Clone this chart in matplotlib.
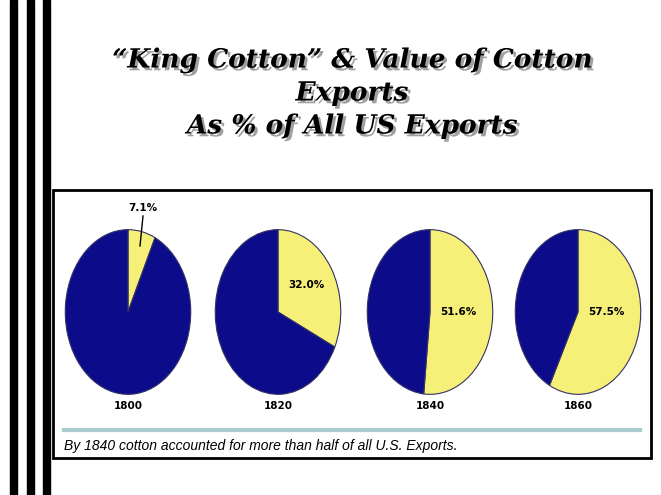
import matplotlib
matplotlib.use("Agg")
import matplotlib.pyplot as plt
from matplotlib.patches import Rectangle
import matplotlib.patheffects as pe

years = ["1800", "1820", "1840", "1860"]
cotton_pct = [7.1, 32.0, 51.6, 57.5]
pie_centers_x = [128, 278, 430, 578]

W, H = 661, 495
fig = plt.figure(figsize=(W/100, H/100), dpi=100)
bg = fig.add_axes([0, 0, 1, 1])
bg.set_xlim(0, W); bg.set_ylim(H, 0); bg.axis("off")

def ftext(x, y, s, **kw):
    fig.text(x/W, 1-y/H, s, **kw)

for x0 in [10, 27, 43]:
    bg.add_patch(Rectangle((x0, 0), 7, H, color="black"))

bg.text(352, 93, "“King Cotton” & Value of Cotton\nExports\nAs % of All US Exports",
        ha="center", va="center", fontsize=19, family="DejaVu Serif", style="italic",
        fontweight="bold", linespacing=1.4,
        path_effects=[pe.withSimplePatchShadow(offset=(2, -2), shadow_rgbFace="#888888", alpha=0.8)])

bg.add_patch(Rectangle((53, 190), 598, 268, fill=False, ec="black", lw=2))
bg.plot([64, 640], [430, 430], color="#a8ccd0", lw=3)
bg.text(64, 446, "By 1840 cotton accounted for more than half of all U.S. Exports.",
        ha="left", va="center", fontsize=10, style="italic", family="Liberation Sans")

navy = "#0c0c8a"
yellow = "#f6ef78"
hw, hh, cy = 64, 84, 312
for yr, p, cx in zip(years, cotton_pct, pie_centers_x):
    ax = fig.add_axes([(cx-hw)/W, 1-(cy+hh)/H, 2*hw/W, 2*hh/H])
    ax.pie([p, 100-p], colors=[yellow, navy], startangle=90, counterclock=False,
           wedgeprops=dict(linewidth=0.8, edgecolor="#333366"))
    ax.set_aspect("auto")
    ax.set_xlim(-1.02, 1.02); ax.set_ylim(-1.02, 1.02)
    ftext(cx, 406, yr, ha="center", va="center", fontsize=7.5, fontweight="bold")
    if p < 10:
        ftext(cx+15, 208, f"{p}%", ha="center", va="center", fontsize=7.5, fontweight="bold")
        fig.add_artist(plt.Line2D([(cx+15)/W, (cx+12)/W], [1-216/H, 1-246/H], color="black", lw=1))
    else:
        ftext(cx+hw*0.45, cy-(27 if p < 40 else 0), f"{p}%", ha="center", va="center",
              fontsize=7.5, fontweight="bold")

fig.savefig("out.png", dpi=100)
